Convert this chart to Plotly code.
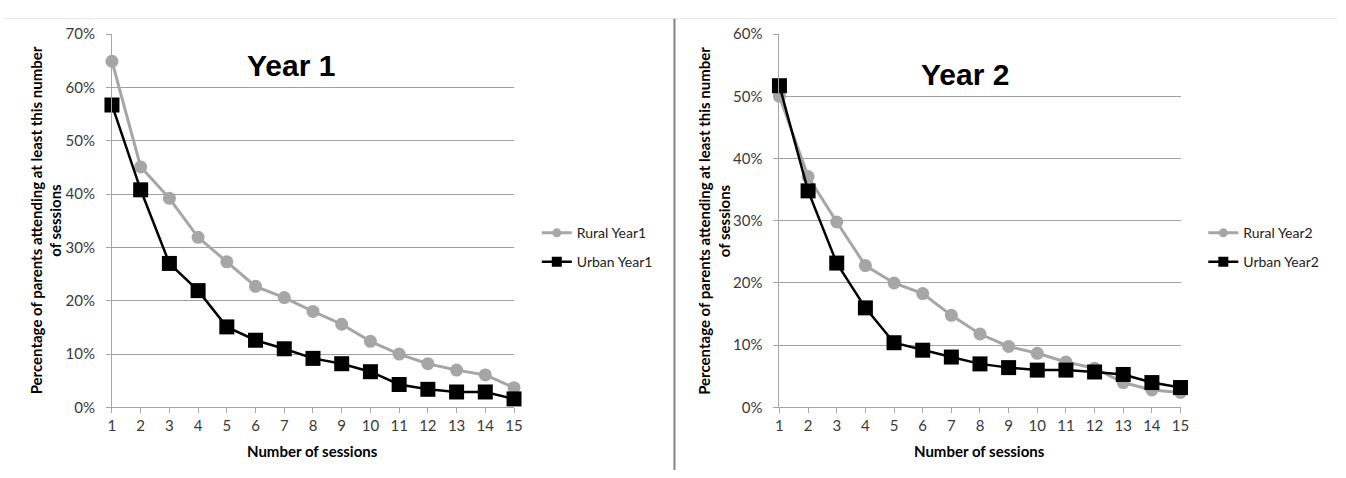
import plotly.graph_objects as go

sessions = list(range(1, 16))

rural_y1 = [0.649, 0.451, 0.392, 0.319, 0.273, 0.227, 0.206, 0.180, 0.156, 0.124, 0.100, 0.082, 0.070, 0.061, 0.037]
urban_y1 = [0.567, 0.408, 0.270, 0.219, 0.151, 0.126, 0.110, 0.092, 0.082, 0.067, 0.043, 0.034, 0.029, 0.029, 0.016]

rural_y2 = [0.500, 0.371, 0.298, 0.228, 0.200, 0.183, 0.148, 0.118, 0.098, 0.087, 0.073, 0.063, 0.040, 0.028, 0.024]
urban_y2 = [0.517, 0.348, 0.232, 0.160, 0.104, 0.092, 0.081, 0.070, 0.064, 0.060, 0.060, 0.057, 0.053, 0.040, 0.032]

names = ["Rural Year1", "Urban Year1", "Rural Year2", "Urban Year2"]
y_titles = "Percentage of parents attending at least this number<br>of sessions"
x_title = "Number of sessions"
panel_titles = ["Year 1", "Year 2"]

W, H = 1346, 478
FONT = "Lato, Liberation Sans, sans-serif"
GREY = "#a6a6a6"

def px(x):
    return x / W

def py(y):
    return (H - y) / H

fig = go.Figure()

series = [
    (rural_y1, names[0], "x", "y", "legend", "rural"),
    (urban_y1, names[1], "x", "y", "legend2", "urban"),
    (rural_y2, names[2], "x2", "y2", "legend3", "rural"),
    (urban_y2, names[3], "x2", "y2", "legend4", "urban"),
]

def styles(kind, legend=False):
    if kind == "rural":
        return (dict(color=GREY, width=3),
                dict(symbol="circle", size=9 if legend else 13, color=GREY))
    return (dict(color="#000000", width=2.5),
            dict(symbol="square", size=10 if legend else 15, color="#000000"))

for vals, name, xa, ya, lg, kind in series:
    line, marker = styles(kind)
    fig.add_trace(go.Scatter(
        x=sessions, y=vals, name=name, mode="lines+markers",
        line=line, marker=marker, xaxis=xa, yaxis=ya,
        showlegend=False, cliponaxis=False, legendgroup=name,
        hoverinfo="skip",
    ))
    # legend-only entry with smaller symbol, as in the reference legend
    lline, lmarker = styles(kind, legend=True)
    fig.add_trace(go.Scatter(
        x=[None], y=[None], name=name, mode="lines+markers",
        line=lline, marker=lmarker, xaxis=xa, yaxis=ya, legend=lg,
        showlegend=True, legendgroup=name,
    ))

tickfont = dict(family=FONT, size=15, color="#3a3a3a")
common_x = dict(range=[1, 15], tickmode="array", tickvals=sessions,
                showgrid=False, zeroline=False, showline=True, linecolor=GREY,
                linewidth=1, ticks="outside", ticklen=5, tickcolor=GREY,
                tickfont=tickfont, fixedrange=True)
common_y = dict(tickformat=".0%", showgrid=True, gridcolor="#a0a0a0", gridwidth=1,
                zeroline=False, showline=True, linecolor=GREY, linewidth=1,
                ticks="outside", ticklen=5, tickcolor=GREY, tickfont=tickfont,
                ticklabelstandoff=8, fixedrange=True)

ydom = [py(413), py(25)]

def legend_at(xpix, ypix):
    return dict(x=px(xpix), y=py(ypix), xanchor="left", yanchor="middle",
                bgcolor="rgba(0,0,0,0)", borderwidth=0,
                font=dict(family=FONT, size=14, color="#222222"))

fig.update_layout(
    width=W, height=H, autosize=False,
    margin=dict(l=0, r=0, t=0, b=0),
    paper_bgcolor="white", plot_bgcolor="white",
    xaxis=dict(domain=[px(109), px(515)], anchor="y", **common_x),
    yaxis=dict(domain=ydom, anchor="x", range=[0, 0.70], dtick=0.1, **common_y),
    xaxis2=dict(domain=[px(783), px(1188)], anchor="y2", **common_x),
    yaxis2=dict(domain=ydom, anchor="x2", range=[0, 0.60], dtick=0.1, **common_y),
    legend=legend_at(538, 232),
    legend2=legend_at(538, 262),
    legend3=legend_at(1211, 232),
    legend4=legend_at(1211, 262),
    showlegend=True,
    hovermode=False,
)

annotations = [
    dict(text=panel_titles[0], x=px(290), y=py(58)),
    dict(text=panel_titles[1], x=px(970), y=py(67)),
]
for a in annotations:
    fig.add_annotation(xref="paper", yref="paper", showarrow=False,
                       xanchor="center", yanchor="middle",
                       font=dict(family="Liberation Sans, Arial, sans-serif", size=30, color="#000000"),
                       text="<b>" + a["text"] + "</b>", x=a["x"], y=a["y"])

for cx in (42, 717):
    fig.add_annotation(xref="paper", yref="paper", showarrow=False,
                       xanchor="center", yanchor="middle", textangle=-90,
                       font=dict(family=FONT, size=15, color="#000000"),
                       text="<b>" + y_titles + "</b>", x=px(cx), y=py(219))

for cx in (312, 985):
    fig.add_annotation(xref="paper", yref="paper", showarrow=False,
                       xanchor="center", yanchor="middle",
                       font=dict(family=FONT, size=15, color="#000000"),
                       text="<b>" + x_title + "</b>", x=px(cx), y=py(458))

fig.add_shape(type="line", xref="paper", yref="paper",
              x0=0, x1=1, y0=py(9), y1=py(9),
              line=dict(color="#e6e6e6", width=1))
fig.add_shape(type="line", xref="paper", yref="paper",
              x0=px(677), x1=px(677), y0=py(9), y1=0,
              line=dict(color="#808080", width=2))

fig.write_html("out.html",
               config={"displayModeBar": False, "responsive": False},
               post_script="document.body.style.margin='0px';document.body.style.overflow='hidden';")
